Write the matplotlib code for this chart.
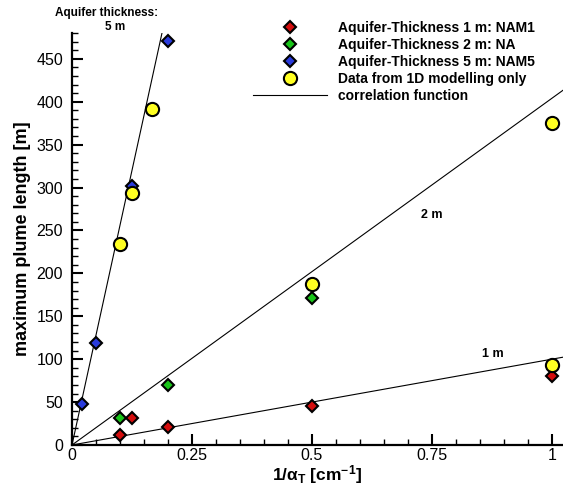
import matplotlib
matplotlib.use("Agg")
import matplotlib.pyplot as plt
import numpy as np
from matplotlib.ticker import MultipleLocator
from matplotlib.lines import Line2D

plt.rcParams['font.family'] = ['Liberation Sans', 'DejaVu Sans']
plt.rcParams['mathtext.fontset'] = 'custom'
plt.rcParams['mathtext.rm'] = 'Liberation Sans:bold'
plt.rcParams['mathtext.it'] = 'Liberation Sans:bold'
plt.rcParams['mathtext.bf'] = 'Liberation Sans:bold'

# Inverse transverse dispersivity [1/cm] and maximum plume length [m]
x_nam1 = [0.1, 0.125, 0.2, 0.5, 1.0]
y_nam1 = [12, 31, 21, 45, 80]

x_na = [0.1, 0.2, 0.5]
y_na = [32, 70, 171]

x_nam5 = [0.02, 0.05, 0.125, 0.2]
y_nam5 = [48, 119, 302, 471]

x_1d = [0.1, 0.125, 0.1667, 0.5, 1.0, 1.0]
y_1d = [234, 294, 391, 188, 375, 93]

# Slopes of the linear correlation functions (plume length per 1/alpha_T)
thickness_labels = ['1 m', '2 m', '5 m']
slopes = [100, 404, 2560]

legend_labels = ['Aquifer-Thickness 1 m: NAM1',
                 'Aquifer-Thickness 2 m: NA',
                 'Aquifer-Thickness 5 m: NAM5',
                 'Data from 1D modelling only',
                 'correlation function']

W, H = 563, 486
fig = plt.figure(figsize=(W / 100, H / 100), dpi=100)
ax = fig.add_axes([72 / W, 41 / H, (W - 72) / W, 412 / H])

xmax, ymax = 1.023, 480
ax.set_xlim(0, xmax)
ax.set_ylim(0, ymax)

xs = np.linspace(0, xmax, 200)
for s in slopes:
    ax.plot(xs, s * xs, color='black', lw=0.8, zorder=2)

dkw = dict(ls='none', marker='D', ms=6.2, mec='black', mew=1.5, zorder=3)
ax.plot(x_nam5, y_nam5, mfc='#2a3bdc', **dkw)
ax.plot(x_na, y_na, mfc='#19c519', **dkw)
ax.plot(x_1d, y_1d, ls='none', marker='o', ms=9.5, mfc='#ffff22',
        mec='black', mew=1.5, zorder=4)
ax.plot(x_nam1, y_nam1, mfc='#d40d0d', **dkw)

for sp in ['top', 'right']:
    ax.spines[sp].set_visible(False)
for sp in ['left', 'bottom']:
    ax.spines[sp].set_linewidth(1.6)

ax.set_xticks([0, 0.25, 0.5, 0.75, 1.0])
ax.set_xticklabels(['0', '0.25', '0.5', '0.75', '1'])
ax.xaxis.set_minor_locator(MultipleLocator(0.05))
ax.yaxis.set_major_locator(MultipleLocator(50))
ax.yaxis.set_minor_locator(MultipleLocator(10))
ax.tick_params(which='major', direction='in', length=8, width=1.5,
               labelsize=11.5, pad=2.5)
ax.tick_params(which='minor', direction='in', length=4.3, width=1.0)
ax.tick_params(axis='y', which='major', pad=6.5)

ax.set_xlabel(r'1/$\alpha_\mathrm{T}$ [cm$^{-1}$]', fontsize=12.5,
              fontweight='bold', labelpad=-0.5)
ax.set_ylabel('maximum plume length [m]', fontsize=13,
              fontweight='bold', labelpad=4)

ax.text(0.75, 268, thickness_labels[1], fontsize=9, fontweight='bold',
        ha='center', va='center')
ax.text(0.877, 106, thickness_labels[0], fontsize=9, fontweight='bold',
        ha='center', va='center')
fig.text(107 / W, 1 - 13 / H, 'Aquifer thickness:', fontsize=8.5,
         fontweight='bold', ha='center', va='center')
fig.text(115 / W, 1 - 27 / H, thickness_labels[2], fontsize=8.5,
         fontweight='bold', ha='center', va='center')

handles = [
    Line2D([], [], mfc='#d40d0d', **dkw),
    Line2D([], [], mfc='#19c519', **dkw),
    Line2D([], [], mfc='#2a3bdc', **dkw),
    Line2D([], [], ls='none', marker='o', ms=9.5, mfc='#ffff22',
           mec='black', mew=1.5),
    Line2D([], [], color='black', lw=0.8),
]
fig.legend(handles, legend_labels, loc='upper left',
           bbox_to_anchor=(253 / W, 1 - 21 / H), frameon=False,
           fontsize=10, prop={'weight': 'bold', 'size': 10},
           handlelength=5.3, handletextpad=0.8, labelspacing=0.22,
           borderpad=0, borderaxespad=0)

fig.savefig('out.png', dpi=100)
